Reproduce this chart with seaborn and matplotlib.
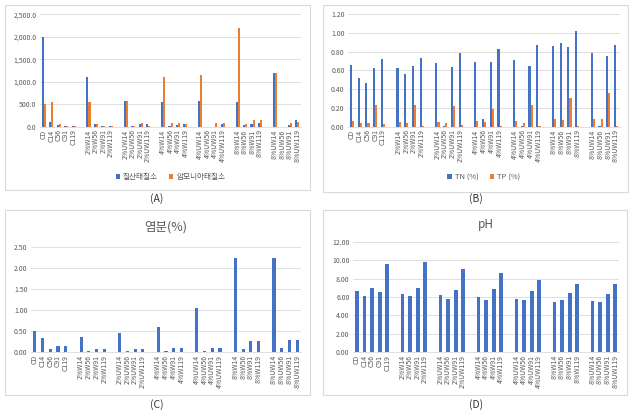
import pandas as pd
import numpy as np
import matplotlib
matplotlib.use('Agg')
import matplotlib.pyplot as plt
from matplotlib.patches import Rectangle
from matplotlib.ticker import FuncFormatter
import seaborn as sns

# sample names, one empty slot between the groups
groups = [['CD', 'C14', 'C56', 'C91', 'C119']]
for g in ['2%W', '2%UW', '4%W', '4%UW', '8%W', '8%UW']:
    groups.append([g + d for d in ['14', '56', '91', '119']])
samples = [s for grp in groups for s in grp]
order = []
for i, grp in enumerate(groups):
    if i > 0:
        order.append(' ' * i)
    order += grp

# (A) nitrogen forms, mg/kg
no3_n = [2000, 100, 40, 5, 5,
         1110, 50, 20, 20,
         580, 20, 60, 50,
         550, 20, 30, 50,
         580, 0, 0, 50,
         550, 30, 50, 80,
         1190, 0, 30, 140]
nh4_n = [500, 550, 50, 20, 20,
         550, 50, 20, 20,
         580, 20, 80, 20,
         1110, 80, 80, 50,
         1150, 0, 80, 80,
         2200, 70, 140, 140,
         1190, 0, 80, 110]

# (B) TN / TP %
tn = [0.66, 0.52, 0.46, 0.62, 0.72,
      0.63, 0.56, 0.65, 0.73,
      0.68, 0.005, 0.64, 0.78,
      0.69, 0.08, 0.69, 0.83,
      0.71, 0.005, 0.65, 0.87,
      0.86, 0.89, 0.85, 1.02,
      0.79, 0.005, 0.75, 0.87]
tp = [0.06, 0.04, 0.04, 0.23, 0.03,
      0.05, 0.04, 0.23, 0.01,
      0.05, 0.04, 0.22, 0.02,
      0.06, 0.05, 0.19, 0.01,
      0.06, 0.04, 0.23, 0.01,
      0.08, 0.07, 0.31, 0.01,
      0.08, 0.08, 0.36, 0.01]

# (C) salt %
salt = [0.50, 0.34, 0.07, 0.15, 0.15,
        0.35, 0.02, 0.06, 0.06,
        0.45, 0.02, 0.07, 0.07,
        0.59, 0.03, 0.10, 0.10,
        1.05, 0.03, 0.09, 0.09,
        2.24, 0.06, 0.26, 0.26,
        2.24, 0.09, 0.29, 0.29]

# (D) pH
ph = [6.70, 6.15, 7.00, 6.60, 9.60,
      6.30, 6.15, 7.00, 9.80,
      6.20, 5.80, 6.80, 9.05,
      6.00, 5.65, 6.85, 8.60,
      5.80, 5.65, 6.70, 7.85,
      5.45, 5.65, 6.40, 7.45,
      5.60, 5.45, 6.35, 7.40]

BLUE = '#4472C4'
ORANGE = '#ED7D31'
GRID = '#D9D9D9'
TXT = '#595959'

sns.set_style('white')
plt.rcParams['font.family'] = ['Noto Sans CJK KR', 'DejaVu Sans']

W, H = 637, 413
fig = plt.figure(figsize=(W / 100, H / 100), dpi=100)


def px_axes(x0, y0, x1, y1):
    return fig.add_axes([x0 / W, 1 - y1 / H, (x1 - x0) / W, (y1 - y0) / H])


def box(x0, y0, x1, y1):
    fig.patches.append(Rectangle((x0 / W, 1 - y1 / H), (x1 - x0) / W, (y1 - y0) / H,
                                 transform=fig.transFigure, fill=False,
                                 edgecolor=GRID, lw=0.8))


def style(ax, ymax, step, fmt):
    ax.set_ylim(0, ymax)
    ax.set_yticks(np.arange(0, ymax + step / 2, step))
    ax.yaxis.set_major_formatter(FuncFormatter(fmt))
    ax.yaxis.grid(True, color=GRID, lw=0.6)
    ax.set_axisbelow(True)
    for s in ['left', 'right', 'top']:
        ax.spines[s].set_visible(False)
    ax.spines['bottom'].set_color(GRID)
    ax.spines['bottom'].set_linewidth(0.6)
    ax.tick_params(length=0, pad=2.5, labelsize=5, labelcolor=TXT)
    ax.tick_params(axis='x', rotation=90, pad=2)
    ax.set_xlabel('')
    ax.set_ylabel('')
    ax.set_xlim(-0.5, len(order) - 0.5)


def two_series(ax, a, b, names):
    df = pd.DataFrame({'sample': samples * 2,
                       'var': [names[0]] * len(samples) + [names[1]] * len(samples),
                       'value': a + b})
    sns.barplot(data=df, x='sample', y='value', hue='var', order=order,
                palette=[BLUE, ORANGE], saturation=1, width=0.55, linewidth=0,
                ax=ax, legend=True)
    ax.legend(loc='center', bbox_to_anchor=(0.5, -0.45), ncol=2, frameon=False,
              fontsize=5.5, handlelength=0.55, handleheight=0.55, handletextpad=0.4,
              columnspacing=1.5, labelcolor=TXT)


def one_series(ax, vals, w):
    df = pd.DataFrame({'sample': samples, 'value': vals})
    sns.barplot(data=df, x='sample', y='value', order=order, color=BLUE,
                saturation=1, width=w, linewidth=0, ax=ax)


# (A)
box(5, 5, 310, 190)
axA = px_axes(40, 14.3, 301, 126.7)
two_series(axA, no3_n, nh4_n, ['질산태질소', '암모니아태질소'])
style(axA, 2500, 500, lambda v, p: f'{v:,.1f}')
fig.text(157 / W, 1 - 199 / H, '(A)', ha='center', va='center', fontsize=7.5, color='#333333')

# (B)
box(323, 5, 628, 192)
axB = px_axes(348, 14, 620, 126.7)
two_series(axB, tn, tp, ['TN (%)', 'TP (%)'])
style(axB, 1.2, 0.2, lambda v, p: f'{v:.2f}')
fig.text(476 / W, 1 - 199 / H, '(B)', ha='center', va='center', fontsize=7.5, color='#333333')

# (C)
box(5, 210, 310, 395)
axC = px_axes(31, 247, 301, 352)
one_series(axC, salt, 0.4)
style(axC, 2.5, 0.5, lambda v, p: f'{v:.2f}')
axC.set_title('염분(%)', fontsize=9, color=TXT, pad=12)
fig.text(157 / W, 1 - 405 / H, '(C)', ha='center', va='center', fontsize=7.5, color='#333333')

# (D)
box(323, 210, 627, 395)
axD = px_axes(353, 242, 619, 352)
one_series(axD, ph, 0.5)
style(axD, 12, 2, lambda v, p: f'{v:.2f}')
axD.set_title('pH', fontsize=8.5, color=TXT, pad=10)
fig.text(476 / W, 1 - 405 / H, '(D)', ha='center', va='center', fontsize=7.5, color='#333333')

fig.savefig('out.png', dpi=100, facecolor='white')
